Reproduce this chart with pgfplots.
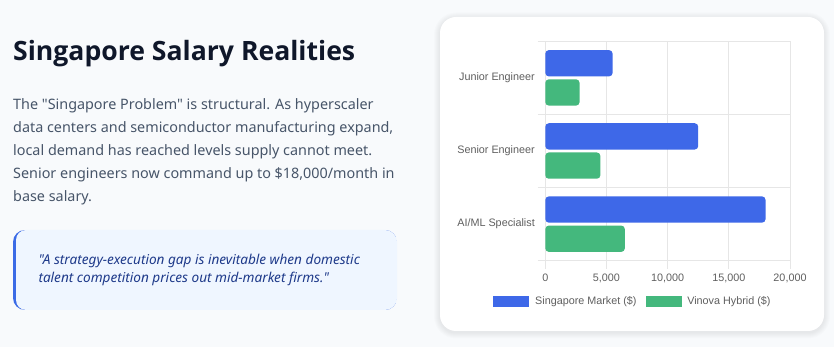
\documentclass[border=0pt]{standalone}
\usepackage{pgfplots}
\usepackage{pgfplotstable}
\pgfplotsset{compat=1.18}
\usepackage{fontspec}
\setmainfont{Noto Sans}
\newfontfamily\uifont{Noto Sans}
\newfontfamily\headfont{Open Sans}
\newfontfamily\chartfont{Liberation Sans}

\definecolor{pagebg}{HTML}{F8FAFC}
\definecolor{titlecol}{HTML}{0F172A}
\definecolor{bodycol}{HTML}{475569}
\definecolor{quotebg}{HTML}{EFF6FF}
\definecolor{quotebar}{HTML}{3B6BE6}
\definecolor{quotecol}{HTML}{1E3A8A}
\definecolor{sgblue}{RGB}{62,104,232}
\definecolor{vngreen}{RGB}{68,184,125}
\definecolor{gridcol}{HTML}{E6E6E6}
\definecolor{labelcol}{HTML}{5F5F5F}

% monthly base salary, SGD (pos 2 = top row)
\pgfplotstableread{
pos market hybrid
2   5500   2800
1   12500  4500
0   18000  6500
}\salarydata

\begin{document}
\begin{tikzpicture}[x=1pt,y=1pt]
% page
\fill[pagebg] (0,0) rectangle (834,347);

% heading and body copy
\node[anchor=base west,inner sep=0pt,text=titlecol,font=\headfont\bfseries\fontsize{26.6}{30}\selectfont] at (13,286.3) {Singapore Salary Realities};
\begin{scope}[every node/.style={anchor=base west,inner sep=0pt,text=bodycol,font=\uifont\fontsize{14.37}{18}\selectfont}]
\node at (13,237.0) {The "Singapore Problem" is structural. As hyperscaler};
\node at (13,214.1) {data centers and semiconductor manufacturing expand,};
\node at (13,191.2) {local demand has reached levels supply cannot meet.};
\node at (13,168.3) {Senior engineers now command up to \$18,000/month in};
\node at (13,145.4) {base salary.};
\end{scope}

% quote callout
\begin{scope}
\clip[rounded corners=12] (13,37) rectangle (397,117);
\fill[quotebar] (13,37) rectangle (397,117);
\fill[quotebg,rounded corners=10] (16,37) rectangle (420,117);
\end{scope}
\begin{scope}[every node/.style={anchor=base west,inner sep=0pt,text=quotecol,font=\uifont\itshape\fontsize{13.6}{16}\selectfont}]
\node at (38.3,82.0) {"A strategy-execution gap is inevitable when domestic};
\node at (38.3,64.3) {talent competition prices out mid-market firms."};
\end{scope}

% chart card with soft shadow
\foreach \s in {1,...,6}{
  \fill[black,opacity=0.012,rounded corners=16+\s] (440-\s,16-\s-1.5) rectangle (824+\s,330+\s-1.5);
}
\fill[white,rounded corners=16] (440,16) rectangle (824,330);

\begin{axis}[
  at={(545.3pt,86.3pt)}, anchor=south west,
  width=244.7pt, height=219.4pt, scale only axis,
  xbar, bar width=26.3pt,
  xmin=0, xmax=20000,
  ymin=-0.5, ymax=2.5,
  xtick={0,5000,10000,15000,20000},
  scaled x ticks=false,
  /pgf/number format/.cd, 1000 sep={,}, assume math mode=true, /pgfplots/.cd,
  ytick={0,1,2},
  yticklabels={AI/ML Specialist,Senior Engineer,Junior Engineer},
  minor ytick={-0.5,0.5,1.5,2.5},
  xmajorgrids, yminorgrids,
  grid style={gridcol,line width=0.8pt},
  axis line style={draw=none},
  tick align=outside,
  xtick pos=bottom, ytick pos=left,
  major tick length=8pt, minor tick length=7.5pt,
  tick style={gridcol,line width=0.8pt},
  every major y tick/.append style={draw=none},
  ticklabel style={font=\chartfont\fontsize{10.8}{12}\selectfont,text=labelcol},
  xticklabel style={yshift=-2pt},
  yticklabel style={xshift=1pt},
  legend columns=2,
  legend style={at={(axis description cs:0.3543,-0.186)},anchor=center,
    draw=none,fill=none,font=\chartfont\fontsize{10.8}{12}\selectfont,text=labelcol,
    nodes={inner sep=0pt},
    /tikz/every even column/.append style={column sep=9pt}},
  legend image code/.code={
    \fill[#1,sharp corners] (0pt,-5.3pt) rectangle (36pt,5.3pt);
    \path (41.7pt,0pt);
  },
]
\addplot[fill=sgblue,draw=none,rounded corners=3.5pt,bar shift=14.6pt] table[x=market,y=pos] {\salarydata};
\addplot[fill=vngreen,draw=none,rounded corners=3.5pt,bar shift=-14.6pt] table[x=hybrid,y=pos] {\salarydata};
\legend{Singapore Market (\$),Vinova Hybrid (\$)}
\end{axis}
\end{tikzpicture}
\end{document}
